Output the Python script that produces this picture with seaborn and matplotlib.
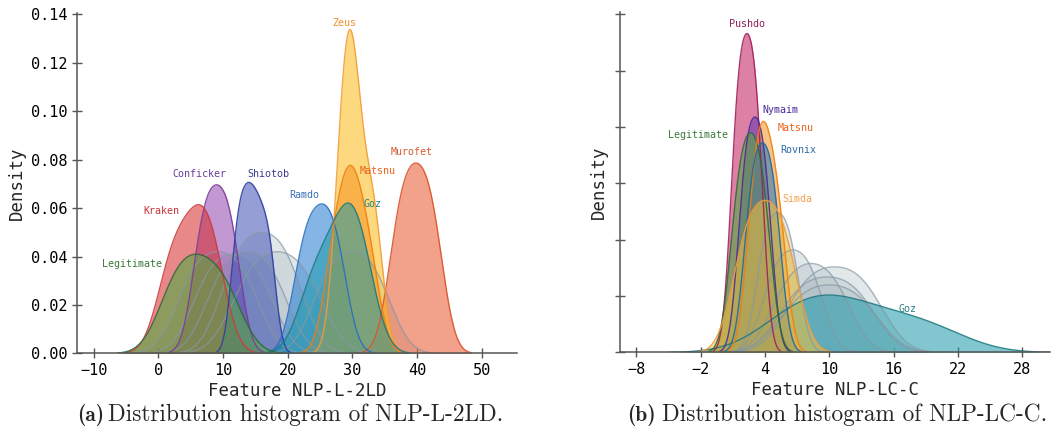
import numpy as np
import pandas as pd
import seaborn as sns
import matplotlib
matplotlib.use("Agg")
import matplotlib.pyplot as plt
from seaborn._statistics import KDE

# ---------------- data: panel (a) NLP-L-2LD ----------------
a_families = ["Grey1", "Grey2", "Grey3", "Grey4", "Grey5", "Grey6",
              "Murofet", "Conficker", "Kraken", "Shiotob", "Ramdo",
              "Zeus", "Matsnu", "Goz", "Legitimate"]
a_samples = [
    [4.3, 6.7, 9.2, 11.7, 14.1],
    [6.7, 9.1, 11.6, 14.1, 16.5],
    [8.8, 11.2, 13.7, 16.2, 18.6],
    [11.1, 13.5, 16.0, 18.5, 20.9],
    [12.9, 15.7, 18.4, 21.1, 23.9],
    [25.2, 27.6, 29.9, 32.3, 34.6],
    [36.7, 38.3, 39.85, 41.4, 43.0],
    [6.2, 7.6, 9.0, 10.4, 11.8],
    [1.3, 3.5, 5.6, 7.3, 8.9],
    [12.0, 13.3, 14.5, 15.8, 17.3],
    [21.9, 23.5, 25.1, 26.6, 28.1],
    [27.9, 28.8, 29.5, 30.1, 30.8, 32.4, 33.8],
    [26.9, 28.6, 29.8, 31.0, 32.9],
    [23.5, 26.4, 28.7, 30.2, 31.8],
    [1.7, 4.0, 6.2, 8.6, 11.2],
]
a_peaks = [0.042, 0.041, 0.042, 0.050, 0.042, 0.042,
           0.0786, 0.0696, 0.0614, 0.0706, 0.0617,
           0.1337, 0.0776, 0.0621, 0.0410]
a_bw = [1.0, 1.0, 1.0, 1.0, 1.0, 1.0,
        1.0, 1.0, 1.0, 0.7, 1.0,
        0.95, 1.0, 1.0, 1.0]
a_label_names = ["Zeus", "Murofet", "Matsnu", "Conficker", "Shiotob",
                 "Ramdo", "Goz", "Kraken", "Legitimate"]
a_label_x = [28.8, 39.1, 33.9, 6.3, 17.0, 22.5, 33.2, 0.5, -4.05]
a_label_y = [0.1364, 0.0831, 0.0754, 0.0742, 0.0742, 0.0654, 0.0615, 0.0589, 0.037]
a_xticks = [-10, 0, 10, 20, 30, 40, 50]
a_yticks = [0.00, 0.02, 0.04, 0.06, 0.08, 0.10, 0.12, 0.14]

# ---------------- data: panel (b) NLP-LC-C ----------------
b_families = ["Grey1", "Grey2", "Grey3", "Grey4", "Grey5", "Grey6",
              "Goz", "Pushdo", "Nymaim", "Legitimate", "Matsnu",
              "Rovnix", "Simda"]
b_samples = [
    [3.65, 4.4, 5.2, 5.95, 6.75],
    [4.4, 5.5, 6.6, 7.7, 8.8],
    [5.4, 6.9, 8.3, 9.7, 11.2],
    [7.0, 8.7, 10.5, 12.3, 14.0],
    [6.3, 8.0, 9.8, 11.6, 13.3],
    [6.4, 8.2, 10.0, 11.8, 13.6],
    [6.0, 8.1, 10.0, 12.6, 16.0, 20.0],
    [1.15, 1.73, 2.31, 2.89, 3.47],
    [1.85, 2.45, 3.06, 3.66, 4.27],
    [1.2, 1.95, 2.65, 3.35, 4.1],
    [2.75, 3.4, 4.0, 4.65, 5.5],
    [2.45, 3.1, 3.77, 4.43, 5.1],
    [1.7, 2.85, 4.0, 5.15, 6.3],
]
b_peaks = [0.124, 0.091, 0.079, 0.076, 0.067, 0.060,
           0.051, 0.283, 0.209, 0.195, 0.205, 0.186, 0.135]
b_bw = [1.0] * 13
b_label_names = ["Pushdo", "Nymaim", "Matsnu", "Legitimate", "Rovnix", "Simda", "Goz"]
b_label_x = [2.28, 5.45, 6.85, -2.28, 7.13, 7.0, 17.3]
b_label_y = [0.2915, 0.215, 0.1996, 0.193, 0.1796, 0.1363, 0.0384]
b_xticks = [-8, -2, 4, 10, 16, 22, 28]
b_yticks = [0.00, 0.05, 0.10, 0.15, 0.20, 0.25, 0.30]

# ---------------- styles ----------------
fill_colors = {
    "Grey": "#aebcc4", "Murofet": "#e8552a", "Conficker": "#8e44ad",
    "Kraken": "#d62728", "Shiotob": "#3f51b5", "Ramdo": "#1f78d1",
    "Zeus": "#fbb917", "Matsnu": "#f7931e", "Goz": "#1b9aaa",
    "Legitimate": "#55a845", "Pushdo": "#c2185b", "Nymaim": "#5e35b1",
    "Rovnix": "#1f77b4", "Simda": "#f2c23a",
}
line_colors = {
    "Grey": "#8598a3", "Murofet": "#d9542b", "Conficker": "#7d3c98",
    "Kraken": "#cc3c40", "Shiotob": "#303f9f", "Ramdo": "#2a6fc0",
    "Zeus": "#f29d3a", "Matsnu": "#f07f10", "Goz": "#1f7a80",
    "Legitimate": "#2e6b3a", "Pushdo": "#a0205a", "Nymaim": "#4a2a9a",
    "Rovnix": "#1f6aa8", "Simda": "#f39c3c",
}
text_colors = {
    "Murofet": "#d35a30", "Conficker": "#6a3d9a", "Kraken": "#c8303a",
    "Shiotob": "#3a3a8f", "Ramdo": "#3a6fb8", "Zeus": "#f28e2b",
    "Matsnu": "#e8641b", "Goz": "#2a7f80", "Legitimate": "#3a7a3a",
    "Pushdo": "#8e1e5a", "Nymaim": "#4a2a9a", "Rovnix": "#2a6aa8",
    "Simda": "#f5a050",
}
alphas = {"Grey": 0.35, "Legitimate": 0.62}

sns.set_theme(style="ticks")
plt.rcParams["font.family"] = ["DejaVu Sans Mono"]

fig = plt.figure(figsize=(10.53, 4.34), dpi=100)
ax_a = fig.add_axes([0.0731, 0.1855, 0.418, 0.7845])
ax_b = fig.add_axes([0.589, 0.1878, 0.408, 0.7842])


def draw_panel(ax, families, samples, peaks, bws, cut):
    for fam, s, pk, bw in zip(families, samples, peaks, bws):
        key = "Grey" if fam.startswith("Grey") else fam
        kde = KDE(bw_adjust=bw, cut=cut, gridsize=400)
        dens, grid = kde(np.asarray(s, dtype=float))
        dens = dens / dens.max() * pk
        df = pd.DataFrame({"x": grid, "y": dens})
        ax.fill_between(df["x"], df["y"], 0, color=fill_colors[key],
                        alpha=alphas.get(key, 0.55), lw=0)
        sns.lineplot(data=df, x="x", y="y", ax=ax, color=line_colors[key],
                     lw=1.0, alpha=0.9 if key != "Grey" else 0.7)


draw_panel(ax_a, a_families, a_samples, a_peaks, a_bw, 3)
draw_panel(ax_b, b_families, b_samples, b_peaks, b_bw, 3)

for name, x, y in zip(a_label_names, a_label_x, a_label_y):
    ax_a.text(x, y, name, color=text_colors[name], fontsize=7.2,
              ha="center", va="center")
for name, x, y in zip(b_label_names, b_label_x, b_label_y):
    ax_b.text(x, y, name, color=text_colors[name], fontsize=7.2,
              ha="center", va="center")

for ax in (ax_a, ax_b):
    sns.despine(ax=ax)
    for sp in ("left", "bottom"):
        ax.spines[sp].set_color("#555555")
        ax.spines[sp].set_linewidth(1.1)
    ax.tick_params(direction="inout", length=7, width=1.0, color="#555555",
                   labelsize=11, labelcolor="black")
    ax.set_ylabel("Density", fontsize=12.5)

ax_a.set_xlim(-12.6, 55.5)
ax_a.set_ylim(0, 0.1405)
ax_a.set_xticks(a_xticks)
ax_a.set_yticks(a_yticks)
ax_a.set_yticklabels([f"{t:.2f}" for t in a_yticks])
ax_a.set_xlabel("Feature NLP-L-2LD", fontsize=12.5, labelpad=3)
ax_a.yaxis.set_label_coords(-0.116, 0.5)

ax_b.set_xlim(-9.5, 30.55)
ax_b.set_ylim(0, 0.302)
ax_b.set_xticks(b_xticks)
ax_b.set_yticks(b_yticks)
ax_b.set_yticklabels([])
ax_b.set_xlabel("Feature NLP-LC-C", fontsize=12.5, labelpad=3)
ax_b.yaxis.set_label_coords(-0.028, 0.5)

# captions
cap_y = 1 - 421.5 / 434
fig.text(77 / 1053, cap_y, "(a)", family="cmb10", fontsize=15.5, va="baseline")
fig.text(108 / 1053, cap_y, "Distribution histogram of NLP-L-2LD.",
         family="cmr10", fontsize=16.8, va="baseline")
fig.text(627 / 1053, cap_y, "(b)", family="cmb10", fontsize=15.5, va="baseline")
fig.text(661.7 / 1053, cap_y, "Distribution histogram of NLP-LC-C.",
         family="cmr10", fontsize=16.8, va="baseline")

fig.savefig("out.png", dpi=100)
